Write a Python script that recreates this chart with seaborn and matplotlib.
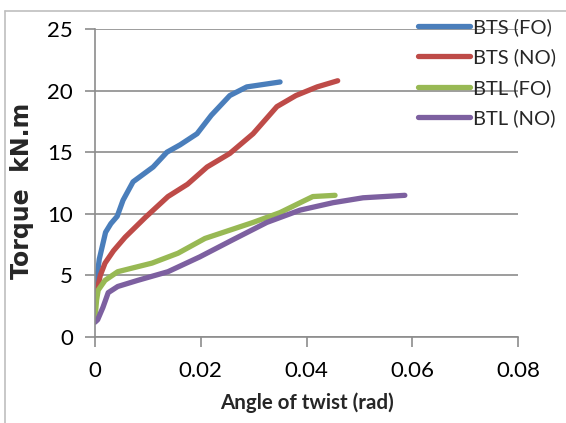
import numpy as np
import pandas as pd
import matplotlib
matplotlib.use("Agg")
import matplotlib.pyplot as plt
from matplotlib.lines import Line2D
import seaborn as sns

bts_fo_x = [0, 0.0008, 0.002, 0.003, 0.0042, 0.0053, 0.0072, 0.011, 0.0136, 0.0161, 0.0193, 0.022, 0.0255, 0.0287, 0.035]
bts_fo_y = [3.5, 6.3, 8.5, 9.2, 9.8, 11.1, 12.6, 13.8, 15.0, 15.6, 16.5, 18.0, 19.6, 20.3, 20.7]
bts_no_x = [0, 0.001, 0.0019, 0.0035, 0.0057, 0.0095, 0.0138, 0.0175, 0.0212, 0.0255, 0.0299, 0.0344, 0.038, 0.042, 0.0459]
bts_no_y = [3.0, 5.0, 6.0, 7.0, 8.1, 9.7, 11.4, 12.4, 13.8, 14.9, 16.5, 18.7, 19.6, 20.3, 20.8]
btl_fo_x = [0, 0.0003, 0.0006, 0.0019, 0.0043, 0.0108, 0.0157, 0.0208, 0.0299, 0.035, 0.0388, 0.0412, 0.0454]
btl_fo_y = [1.5, 3.0, 3.8, 4.6, 5.3, 6.0, 6.8, 8.0, 9.3, 10.1, 10.9, 11.4, 11.5]
btl_no_x = [0, 0.0005, 0.0015, 0.0025, 0.0043, 0.0081, 0.0138, 0.0198, 0.0261, 0.0325, 0.0388, 0.045, 0.0507, 0.0586]
btl_no_y = [1.2, 1.4, 2.4, 3.6, 4.1, 4.6, 5.3, 6.5, 7.9, 9.3, 10.3, 10.9, 11.3, 11.5]

series = ["BTS (FO)", "BTS (NO)", "BTL (FO)", "BTL (NO)"]
colors = ["#4A7EBB", "#BE4B48", "#98B954", "#7D60A0"]
xticks = [0, 0.02, 0.04, 0.06, 0.08]
xtick_labels = ["0", "0.02", "0.04", "0.06", "0.08"]
yticks = [0, 5, 10, 15, 20, 25]

frames = []
for name, xs, ys in zip(series, [bts_fo_x, bts_no_x, btl_fo_x, btl_no_x],
                        [bts_fo_y, bts_no_y, btl_fo_y, btl_no_y]):
    frames.append(pd.DataFrame({"x": xs, "y": ys, "s": name}))
df = pd.concat(frames, ignore_index=True)

sns.set_style("white")
plt.rcParams["font.family"] = ["Lato", "DejaVu Sans"]

fig = plt.figure(figsize=(5.66, 4.23), dpi=100)
W, H = 566, 423
ax = fig.add_axes([95 / W, 1 - 337 / H, (518 - 95) / W, (337 - 29) / H])

sns.lineplot(data=df, x="x", y="y", hue="s", palette=dict(zip(series, colors)),
             sort=False, estimator=None, linewidth=3.8, ax=ax, legend=False,
             solid_capstyle="round", solid_joinstyle="round")

ax.set_xlim(0, 0.08)
ax.set_ylim(0, 25)
ax.set_xticks(xticks)
ax.set_xticklabels(xtick_labels)
ax.set_yticks(yticks)
ax.yaxis.grid(True, color="#8C8C8C", linewidth=1.2)
ax.xaxis.grid(False)
ax.set_axisbelow(True)
for s in ["top", "right"]:
    ax.spines[s].set_visible(False)
for s in ["left", "bottom"]:
    ax.spines[s].set_color("#8C8C8C")
    ax.spines[s].set_linewidth(1.2)
ax.tick_params(axis="both", direction="out", length=7, width=1.2, color="#8C8C8C",
               labelsize=16, labelcolor="black", left=True, bottom=True)
ax.tick_params(axis="x", pad=10)
ax.tick_params(axis="y", pad=9)
ax.set_xlabel("Angle of twist (rad)", fontsize=14.8, fontweight="bold")
ax.xaxis.set_label_coords(0.5, -(392 - 337) / (337 - 29))
ax.set_ylabel("Torque  kN.m", fontsize=17, fontweight="bold",
              family=["DejaVu Sans"])
ax.yaxis.set_label_coords(-(95 - 34) / (518 - 95), (337 - 191) / (337 - 29))

handles = [Line2D([0], [0], color=c, linewidth=3.8, solid_capstyle="round") for c in colors]
fig.legend(handles, series, loc="upper left", bbox_to_anchor=(418 / W, 1 - 18 / H),
           frameon=False, fontsize=14.5, handlelength=2.6, handletextpad=0.15,
           labelspacing=0.62, borderaxespad=0, borderpad=0)

fig.add_artist(Line2D([5 / W, 5 / W], [0, 1 - 11 / H], color="#BFBFBF", linewidth=1.2,
                      transform=fig.transFigure))
fig.add_artist(Line2D([5 / W, 1], [1 - 11 / H, 1 - 11 / H], color="#BFBFBF", linewidth=1.2,
                      transform=fig.transFigure))

fig.savefig("out.png", dpi=100)
